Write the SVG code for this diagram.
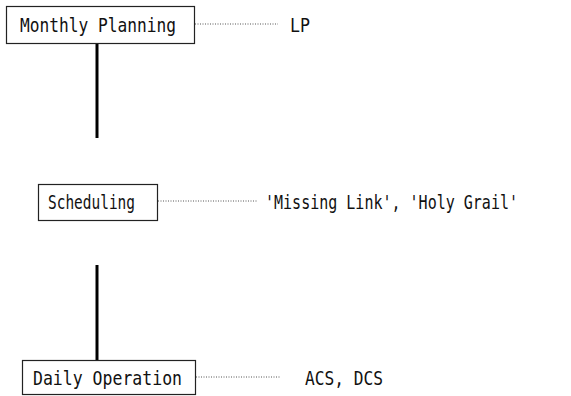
<svg xmlns="http://www.w3.org/2000/svg" width="571" height="396" viewBox="0 0 571 396">
<style>
.box{fill:#fff;stroke:#222;stroke-width:1.2}
.t{font-family:"DejaVu Sans Mono","Liberation Mono",monospace;fill:#111}
.dot{stroke:#555;stroke-width:1;stroke-dasharray:1 1.5;fill:none}
.link{stroke:#000;stroke-width:3;fill:none}
</style>
<rect width="571" height="396" fill="#fff"/>
<g id="connectors">
<line class="link" x1="97" y1="43" x2="97" y2="138"/>
<line class="link" x1="97" y1="265" x2="97" y2="360"/>
<line class="dot" x1="195" y1="24" x2="278" y2="24"/>
<line class="dot" x1="158" y1="201" x2="257" y2="201"/>
<line class="dot" x1="196" y1="377" x2="280" y2="377"/>
</g>
<g id="monthly">
<rect class="box" x="6.5" y="6.5" width="188" height="37"/>
<text class="t" x="20" y="32" font-size="20" textLength="156" lengthAdjust="spacingAndGlyphs">Monthly Planning</text>
</g>
<g id="lp">
<text class="t" x="290" y="32" font-size="20" textLength="20" lengthAdjust="spacingAndGlyphs">LP</text>
</g>
<g id="scheduling">
<rect class="box" x="38.5" y="184.5" width="119" height="36"/>
<text class="t" x="48" y="209" font-size="19" textLength="87" lengthAdjust="spacingAndGlyphs">Scheduling</text>
</g>
<g id="missing">
<text class="t" x="265" y="209" font-size="19" textLength="253" lengthAdjust="spacingAndGlyphs">'Missing Link', 'Holy Grail'</text>
</g>
<g id="daily">
<rect class="box" x="22.5" y="360.5" width="173" height="34"/>
<text class="t" x="33" y="385" font-size="20" textLength="149" lengthAdjust="spacingAndGlyphs">Daily Operation</text>
</g>
<g id="acs">
<text class="t" x="305" y="385" font-size="20" textLength="78" lengthAdjust="spacingAndGlyphs">ACS, DCS</text>
</g>
</svg>
